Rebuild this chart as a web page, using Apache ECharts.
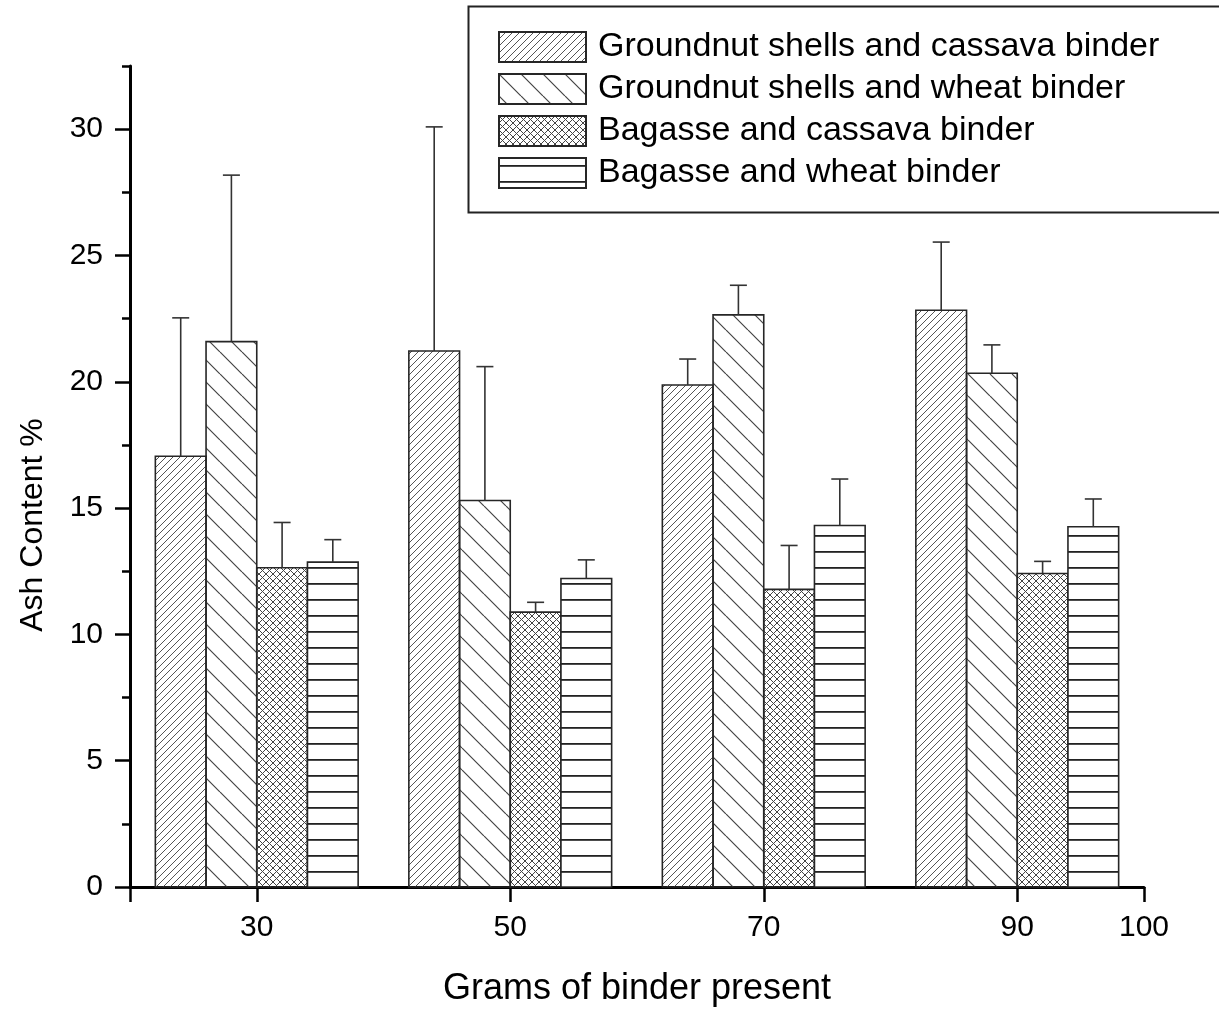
<!DOCTYPE html>
<html>
<head>
<meta charset="utf-8">
<script src="https://cdn.jsdelivr.net/npm/echarts@6/dist/echarts.min.js"></script>
<style>
  html, body { margin: 0; padding: 0; background: #fff; }
  #chart { width: 1219px; height: 1012px; }
</style>
</head>
<body>
<div id="chart"></div>
<script>
// Ash content of briquettes by amount of binder (g), mean with upper error bar
const binderGrams = [30, 50, 70, 90];
const seriesNames = [
  'Groundnut shells and cassava binder',
  'Groundnut shells and wheat binder',
  'Bagasse and cassava binder',
  'Bagasse and wheat binder'
];
const gsCassava    = [17.05, 21.22, 19.87, 22.83];
const gsCassavaErr = [5.48, 8.87, 1.03, 2.70];
const gsWheat      = [21.59, 15.30, 22.65, 20.34];
const gsWheatErr   = [6.59, 5.30, 1.17, 1.12];
const bgCassava    = [12.64, 10.88, 11.78, 12.41];
const bgCassavaErr = [1.79, 0.39, 1.74, 0.48];
const bgWheat      = [12.86, 12.21, 14.31, 14.26];
const bgWheatErr   = [0.89, 0.74, 1.84, 1.10];

const xTickLabels = [30, 50, 70, 90, 100];
const xTickMarks  = [20, 30, 50, 70, 90, 100];
const yTickLabels = [0, 5, 10, 15, 20, 25, 30];

const FONT = "'Liberation Sans', Arial, Helvetica, sans-serif";
const BAR_UNITS = 4;   // width of one bar in x-axis units
const INK = '#262626';

// --- hatch fills ---------------------------------------------------------
function tile(w, h, draw) {
  const c = document.createElement('canvas');
  c.width = w; c.height = h;
  const ctx = c.getContext('2d');
  draw(ctx, w, h);
  return { image: c, repeat: 'repeat' };
}
function forward(ctx, s) {       // "/" lines
  for (const c of [0, s, 2 * s]) { ctx.moveTo(c, 0); ctx.lineTo(c - s, s); }
}
function backward(ctx, s) {      // "\" lines
  for (const c of [-s, 0, s]) { ctx.moveTo(c, 0); ctx.lineTo(c + s, s); }
}
const patterns = [
  tile(7, 7, (ctx, s) => {
    ctx.strokeStyle = '#555'; ctx.lineWidth = 1;
    ctx.beginPath(); forward(ctx, s); ctx.stroke();
  }),
  tile(22, 22, (ctx, s) => {
    ctx.strokeStyle = '#444'; ctx.lineWidth = 1.2;
    ctx.beginPath(); backward(ctx, s); ctx.stroke();
  }),
  tile(7, 7, (ctx, s) => {
    ctx.strokeStyle = '#444'; ctx.lineWidth = 1;
    ctx.beginPath(); forward(ctx, s); backward(ctx, s); ctx.stroke();
  }),
  tile(4, 16, (ctx, w, h) => {
    ctx.fillStyle = '#fff'; ctx.fillRect(0, 0, w, h);
    ctx.fillStyle = '#222'; ctx.fillRect(0, 7, w, 1.8);
  })
];

const seriesValues = [gsCassava, gsWheat, bgCassava, bgWheat];
const seriesErrors = [gsCassavaErr, gsWheatErr, bgCassavaErr, bgWheatErr];

function renderBar(slot) {
  return function (params, api) {
    const xc = api.value(0), v = api.value(1), e = api.value(2);
    const p0 = api.coord([xc + (slot - 2) * BAR_UNITS, 0]);
    const p1 = api.coord([xc + (slot - 1) * BAR_UNITS, v]);
    const mid = api.coord([xc + (slot - 1.5) * BAR_UNITS, v]);
    const top = api.coord([xc + (slot - 1.5) * BAR_UNITS, v + e]);
    const cap = 8.5;
    return {
      type: 'group',
      children: [
        {
          type: 'rect',
          shape: { x: p0[0], y: p1[1], width: p1[0] - p0[0], height: p0[1] - p1[1] },
          style: { fill: patterns[slot], stroke: INK, lineWidth: 1.6 }
        },
        {
          type: 'line',
          shape: { x1: mid[0], y1: mid[1], x2: top[0], y2: top[1] },
          style: { stroke: '#333', lineWidth: 1.6 }
        },
        {
          type: 'line',
          shape: { x1: top[0] - cap, y1: top[1], x2: top[0] + cap, y2: top[1] },
          style: { stroke: '#333', lineWidth: 1.6 }
        }
      ]
    };
  };
}

const series = seriesNames.map((name, i) => ({
  name,
  type: 'custom',
  renderItem: renderBar(i),
  clip: false,
  encode: { x: 0, y: 1 },
  itemStyle: { color: patterns[i], borderColor: INK, borderWidth: 1.6 },
  data: binderGrams.map((g, k) => [g, seriesValues[i][k], seriesErrors[i][k]])
}));

const chart = echarts.init(document.getElementById('chart'), null, { renderer: 'canvas' });
chart.setOption({
  backgroundColor: '#fff',
  animation: false,
  grid: { left: 130, right: 75, top: 66, bottom: 124 },
  xAxis: {
    type: 'value',
    min: 20, max: 100,
    name: 'Grams of binder present',
    nameLocation: 'middle',
    nameGap: 84,
    nameTextStyle: { fontFamily: FONT, fontSize: 36, color: '#000' },
    axisLine: { show: true, onZero: false, lineStyle: { color: '#000', width: 3 } },
    axisTick: { show: true, inside: false, length: 15, customValues: xTickMarks, lineStyle: { color: '#000', width: 2.5 } },
    axisLabel: { customValues: xTickLabels, margin: 26, fontFamily: FONT, fontSize: 30, color: '#000' },
    splitLine: { show: false }
  },
  yAxis: [
    {
      type: 'value',
      min: 0, max: 32.5,
      axisLine: { show: true, lineStyle: { color: '#000', width: 3 } },
      axisTick: { show: true, length: 15, customValues: yTickLabels, lineStyle: { color: '#000', width: 2.5 } },
      axisLabel: { customValues: yTickLabels, margin: 27, fontFamily: FONT, fontSize: 30, color: '#000' },
      splitLine: { show: false }
    },
    {
      type: 'value',
      min: 0, max: 32.5, interval: 2.5,
      position: 'left',
      axisLine: { show: false },
      axisTick: { show: true, length: 8, lineStyle: { color: '#000', width: 2.5 } },
      axisLabel: { show: false },
      splitLine: { show: false }
    }
  ],
  legend: {
    orient: 'vertical',
    left: 498, top: 30,
    padding: 0,
    itemWidth: 87, itemHeight: 30, itemGap: 8,
    selectedMode: false,
    textStyle: { fontFamily: FONT, fontSize: 34, color: '#000', padding: [0, 0, 0, 7] },
    data: seriesNames.map((name, i) => ({
      name,
      icon: 'rect',
      itemStyle: { color: patterns[i], borderColor: INK, borderWidth: 2 }
    }))
  },
  graphic: [
    {
      type: 'rect',
      left: 466, top: 4,
      shape: { width: 800, height: 206 },
      style: { fill: 'none', stroke: '#222', lineWidth: 2 },
      z: 0
    },
    {
      type: 'text',
      x: 33, y: 525,
      rotation: Math.PI / 2,
      style: {
        text: 'Ash Content %',
        font: '32px ' + FONT,
        fill: '#000',
        align: 'center',
        verticalAlign: 'middle'
      }
    }
  ],
  series
});
</script>
</body>
</html>
